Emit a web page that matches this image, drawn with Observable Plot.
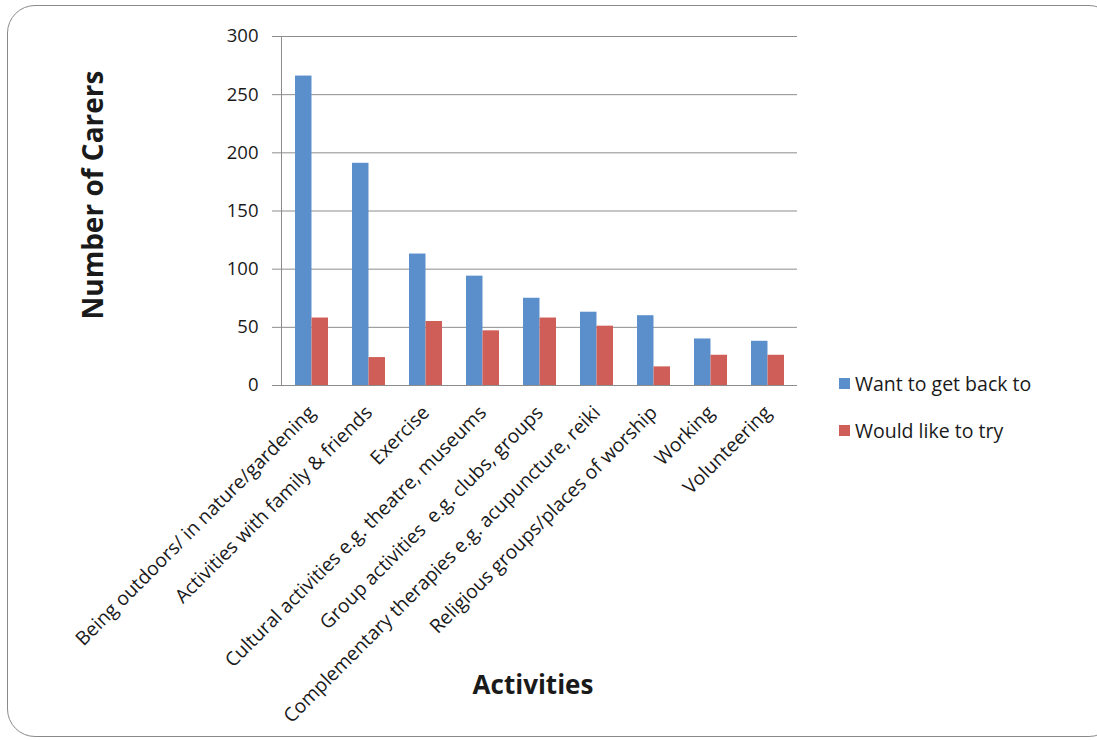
<!DOCTYPE html>
<html>
<head>
<meta charset="utf-8">
<script src="https://cdn.jsdelivr.net/npm/d3@7"></script>
<script src="https://cdn.jsdelivr.net/npm/@observablehq/plot@0.6"></script>
<style>
  html, body { margin: 0; padding: 0; background: #fff; overflow: hidden; }
  #wrap { position: relative; width: 1097px; height: 740px; overflow: hidden; font-family: "Open Sans", sans-serif; color: #1a1a1a; }
  #border { position: absolute; left: 7px; top: 5px; width: 1110px; height: 732px; border: 1.5px solid #8a8a8a; border-radius: 28px; box-sizing: border-box; }
  #chart { position: absolute; left: 0; top: 0; }
  .ytitle { position: absolute; left: 92px; top: 195px; transform: translate(-50%, -50%) rotate(-90deg); font-weight: 700; font-size: 28px; white-space: nowrap; }
  .xtitle { position: absolute; left: 533px; top: 684px; transform: translate(-50%, -50%); font-weight: 700; font-size: 26px; white-space: nowrap; }
  .legend { position: absolute; left: 839px; font-size: 19.5px; white-space: nowrap; display: flex; align-items: center; }
  .legend .sw { width: 11px; height: 11px; margin-right: 5px; display: inline-block; }
</style>
</head>
<body>
<div id="wrap">
  <div id="border"></div>
  <div id="chart"></div>
  <div class="ytitle">Number of Carers</div>
  <div class="xtitle">Activities</div>
  <div id="legend"></div>
</div>
<script>
const categories = [
  "Being outdoors/ in nature/gardening",
  "Activities with family & friends",
  "Exercise",
  "Cultural activities e.g. theatre, museums",
  "Group activities  e.g. clubs, groups",
  "Complementary therapies e.g. acupuncture, reiki",
  "Religious groups/places of worship",
  "Working",
  "Volunteering"
];
const seriesNames = ["Want to get back to", "Would like to try"];
const wantBack = [266, 191, 113, 94, 75, 63, 60, 40, 38];
const wouldTry = [58, 24, 55, 47, 58, 51, 16, 26, 26];
const yTicks = [0, 50, 100, 150, 200, 250, 300];
const colors = ["#5B8FCC", "#CE5E57"];

const wantRows = categories.map((c, i) => ({category: c, value: wantBack[i], series: seriesNames[0]}));
const tryRows = categories.map((c, i) => ({category: c, value: wouldTry[i], series: seriesNames[1]}));

const W = 1097, H = 740;
const mL = 281, mR = 300, mT = 36, mB = 355;
const pInner = 0.424, pOuter = 0.212;
const step = (W - mL - mR) / categories.length;
const half = step * (1 - pInner) / 2;

const chart = Plot.plot({
  width: W,
  height: H,
  marginLeft: mL,
  marginRight: mR,
  marginTop: mT,
  marginBottom: mB,
  style: {fontFamily: "Open Sans, sans-serif", fontSize: "19px", color: "#1a1a1a", background: "transparent"},
  x: {domain: categories, paddingInner: pInner, paddingOuter: pOuter, label: null},
  y: {domain: [0, 300], label: null},
  marks: [
    Plot.gridY(yTicks, {stroke: "#8c8c8c", strokeOpacity: 1, strokeWidth: 1}),
    Plot.axisY(yTicks, {tickSize: 9, tickPadding: 14, stroke: "#8c8c8c", strokeOpacity: 1, fontSize: 18.5, label: null}),
    Plot.frame({anchor: "left", stroke: "#8c8c8c"}),
    Plot.barY(wantRows, {x: "category", y: "value", fill: colors[0], insetRight: half}),
    Plot.barY(tryRows, {x: "category", y: "value", fill: colors[1], insetLeft: half}),
    Plot.axisX({tickRotate: -45, tickSize: 0, tickPadding: 24, fontSize: 19.3, label: null})
  ]
});
document.getElementById("chart").appendChild(chart);

const legend = document.getElementById("legend");
const legendTops = [370, 417];
seriesNames.forEach((name, i) => {
  const d = document.createElement("div");
  d.className = "legend";
  d.style.top = legendTops[i] + "px";
  d.innerHTML = `<span class="sw" style="background:${colors[i]}"></span><span>${name}</span>`;
  legend.appendChild(d);
});
</script>
</body>
</html>
